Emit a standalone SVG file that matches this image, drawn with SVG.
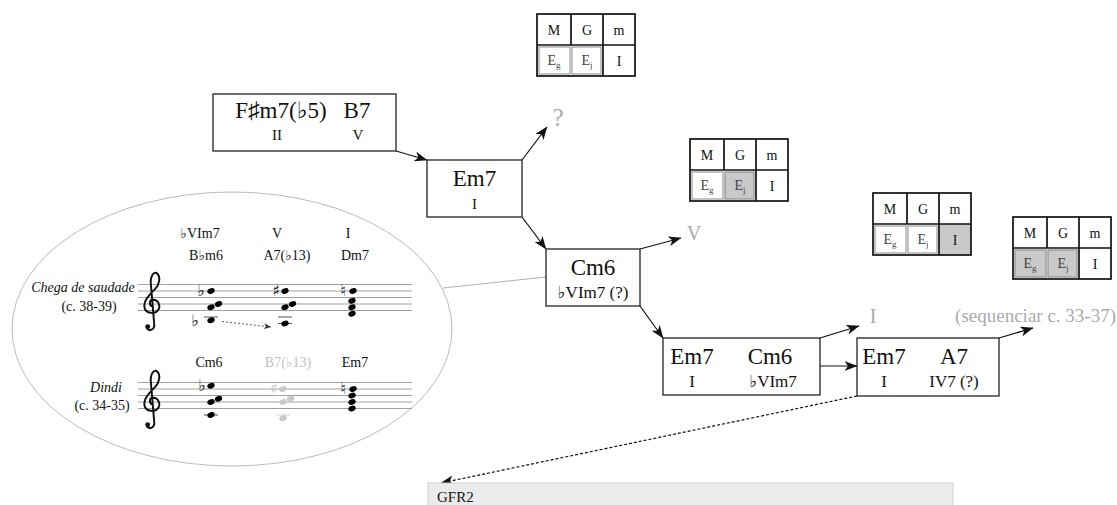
<svg xmlns="http://www.w3.org/2000/svg" xmlns:xlink="http://www.w3.org/1999/xlink" width="1117" height="505" viewBox="0 0 1117 505">
<style>
text{font-family:"Liberation Serif","DejaVu Serif",serif;fill:#111}
.box{fill:#fff;stroke:#222;stroke-width:1.3}
.ch{font-size:23px;text-anchor:middle}
.rn{font-size:15px;text-anchor:middle}
.rn2{font-size:17px;text-anchor:middle}
.gr{fill:#aaa}
.lg{fill:#c0c0c0}
.tb{fill:none;stroke:#111;stroke-width:1.7}
.tt{font-size:14px;text-anchor:middle}
.ts{fill:#444}
.cell{fill:#fff;stroke:#aaa;stroke-width:1.4}
.cellg{fill:#c9c9c9;stroke:#999;stroke-width:1.4}
.conn{fill:none;stroke:#111;stroke-width:1.2;marker-end:url(#ah)}
.sm{font-size:14px;text-anchor:middle}
.it{font-style:italic}
.st{stroke:#888;stroke-width:0.8}
.led{stroke:#444;stroke-width:0.9}
.acc{font-family:"DejaVu Sans",sans-serif;font-size:16px;text-anchor:middle;fill:#111}
.clef{fill:none;stroke:#111;stroke-width:1.8}
</style>
<defs>
<marker id="ah" markerUnits="userSpaceOnUse" markerWidth="14" markerHeight="10" refX="12.5" refY="5" orient="auto">
<path d="M0,0 L13,5 L0,10 L3.5,5 Z" fill="#111"/>
</marker>
<marker id="ahs" markerUnits="userSpaceOnUse" markerWidth="8" markerHeight="6" refX="7" refY="3" orient="auto">
<path d="M0,0 L7,3 L0,6 L2,3 Z" fill="#333"/>
</marker>
<ellipse id="nh" rx="3.8" ry="2.7" transform="rotate(-25)"/>
<g id="clef">
<path class="clef" d="M1,2 C-3,2 -3,-4 1,-4 C6,-4 8,2 6,5 C3,10 -6,9 -7,3 C-8,-3 -2,-9 3,-14 C7,-18 8,-25 5,-28 C2,-31 -2,-26 -1,-18 L2,18 C3,24 -3,26 -5,22"/>
<circle cx="-4" cy="21" r="2.3" fill="#111"/>
</g>
</defs>

<!-- tables -->
<g id="table1" transform="translate(537,14)">
<rect class="cell" x="2" y="33" width="31" height="27"/>
<rect class="cell" x="35" y="33" width="29" height="27"/>
<rect class="tb" x="0" y="0" width="98" height="62"/>
<line class="tb" x1="0" y1="31" x2="98" y2="31"/>
<line class="tb" x1="34" y1="0" x2="34" y2="31"/>
<line class="tb" x1="66" y1="0" x2="66" y2="62"/>
<text class="tt" x="17" y="21">M</text><text class="tt" x="50" y="21">G</text><text class="tt" x="82" y="21">m</text>
<text class="tt ts" x="17" y="51">E<tspan font-size="9" dy="3">g</tspan></text>
<text class="tt ts" x="50" y="51">E<tspan font-size="9" dy="3">j</tspan></text>
<text class="tt" x="82" y="52">I</text>
</g>
<g id="table2" transform="translate(690,139)">
<rect class="cell" x="2" y="33" width="31" height="27"/>
<rect class="cellg" x="35" y="33" width="29" height="27"/>
<rect class="tb" x="0" y="0" width="98" height="62"/>
<line class="tb" x1="0" y1="31" x2="98" y2="31"/>
<line class="tb" x1="34" y1="0" x2="34" y2="31"/>
<line class="tb" x1="66" y1="0" x2="66" y2="62"/>
<text class="tt" x="17" y="21">M</text><text class="tt" x="50" y="21">G</text><text class="tt" x="82" y="21">m</text>
<text class="tt ts" x="17" y="51">E<tspan font-size="9" dy="3">g</tspan></text>
<text class="tt ts" x="50" y="51">E<tspan font-size="9" dy="3">j</tspan></text>
<text class="tt" x="82" y="52">I</text>
</g>
<g id="table3" transform="translate(873,193)">
<rect class="cell" x="2" y="33" width="31" height="27"/>
<rect class="cell" x="35" y="33" width="29" height="27"/>
<rect x="66" y="31" width="32" height="31" fill="#c9c9c9"/>
<rect class="tb" x="0" y="0" width="98" height="62"/>
<line class="tb" x1="0" y1="31" x2="98" y2="31"/>
<line class="tb" x1="34" y1="0" x2="34" y2="31"/>
<line class="tb" x1="66" y1="0" x2="66" y2="62"/>
<text class="tt" x="17" y="21">M</text><text class="tt" x="50" y="21">G</text><text class="tt" x="82" y="21">m</text>
<text class="tt ts" x="17" y="51">E<tspan font-size="9" dy="3">g</tspan></text>
<text class="tt ts" x="50" y="51">E<tspan font-size="9" dy="3">j</tspan></text>
<text class="tt" x="82" y="52">I</text>
</g>
<g id="table4" transform="translate(1013,217)">
<rect class="cellg" x="2" y="33" width="31" height="27"/>
<rect class="cellg" x="35" y="33" width="29" height="27"/>
<rect class="tb" x="0" y="0" width="98" height="62"/>
<line class="tb" x1="0" y1="31" x2="98" y2="31"/>
<line class="tb" x1="34" y1="0" x2="34" y2="31"/>
<line class="tb" x1="66" y1="0" x2="66" y2="62"/>
<text class="tt" x="17" y="21">M</text><text class="tt" x="50" y="21">G</text><text class="tt" x="82" y="21">m</text>
<text class="tt ts" x="17" y="51">E<tspan font-size="9" dy="3">g</tspan></text>
<text class="tt ts" x="50" y="51">E<tspan font-size="9" dy="3">j</tspan></text>
<text class="tt" x="82" y="52">I</text>
</g>

<!-- connectors -->
<g id="connectors">
<line class="conn" x1="396" y1="151" x2="427" y2="160"/>
<line class="conn" x1="522" y1="160" x2="547" y2="127"/>
<line class="conn" x1="522" y1="217" x2="546" y2="249"/>
<line class="conn" x1="640" y1="249" x2="681" y2="238"/>
<line class="conn" x1="640" y1="306" x2="663" y2="338"/>
<line class="conn" x1="820" y1="338" x2="859" y2="326"/>
<line class="conn" x1="820" y1="366" x2="857" y2="366"/>
<line class="conn" x1="999" y1="338" x2="1033" y2="328"/>
<line class="conn" x1="857" y1="396" x2="441" y2="483" stroke-dasharray="3,2"/>
<line x1="443" y1="288" x2="546" y2="277" stroke="#999" stroke-width="0.8"/>
</g>

<!-- flow nodes -->
<g id="node-fsharp">
<rect class="box" x="213" y="94" width="183" height="57"/>
<text class="ch" x="281" y="118">F♯m7(♭5)</text>
<text class="ch" x="357" y="118">B7</text>
<text class="rn" x="277" y="140">II</text>
<text class="rn" x="358" y="140">V</text>
</g>
<g id="node-em7">
<rect class="box" x="427" y="160" width="95" height="57"/>
<text class="ch" x="474.5" y="186">Em7</text>
<text class="rn" x="474.5" y="209">I</text>
</g>
<g id="node-cm6">
<rect class="box" x="546" y="249" width="94" height="57"/>
<text class="ch" x="593" y="275">Cm6</text>
<text class="rn2" x="593" y="298">♭VIm7 (?)</text>
</g>
<g id="node-em7cm6">
<rect class="box" x="663" y="338" width="157" height="57"/>
<text class="ch" x="692" y="364">Em7</text>
<text class="ch" x="770" y="364">Cm6</text>
<text class="rn2" x="692" y="387">I</text>
<text class="rn2" x="773" y="387">♭VIm7</text>
</g>
<g id="node-em7a7">
<rect class="box" x="857" y="338" width="142" height="58"/>
<text class="ch" x="884" y="364">Em7</text>
<text class="ch" x="954" y="364">A7</text>
<text class="rn2" x="884" y="387">I</text>
<text class="rn2" x="954" y="387">IV7 (?)</text>
</g>
<g id="labels-gray">
<text class="gr" x="558" y="126" font-size="25" text-anchor="middle">?</text>
<text class="gr" x="694" y="240" font-size="20" text-anchor="middle">V</text>
<text class="gr" x="873" y="323" font-size="20" text-anchor="middle">I</text>
<text class="gr" x="1116" y="322" font-size="19" text-anchor="end">(sequenciar c. 33-37)</text>
</g>
<g id="node-gfr2">
<rect x="428" y="483" width="525" height="30" fill="#ebebeb" stroke="#d0d0d0" stroke-width="1"/>
<text x="437" y="502" font-size="15">GFR2</text>
</g>

<!-- ellipse with score excerpts -->
<g id="node-excerpt">
<ellipse cx="232" cy="329" rx="220" ry="137" fill="#fff" stroke="#bbb" stroke-width="1"/>
<text class="sm" x="200" y="238">♭VIm7</text>
<text class="sm" x="277" y="238">V</text>
<text class="sm" x="348" y="238">I</text>
<text class="sm" x="206" y="260">B♭m6</text>
<text class="sm" x="287" y="260">A7(♭13)</text>
<text class="sm" x="355" y="260">Dm7</text>
<text class="sm it" x="83" y="292">Chega de saudade</text>
<text class="sm" x="89" y="311">(c. 38-39)</text>
<g class="st">
<line x1="138" y1="284.5" x2="412" y2="284.5"/><line x1="138" y1="291" x2="412" y2="291"/><line x1="138" y1="297.5" x2="412" y2="297.5"/><line x1="138" y1="304" x2="412" y2="304"/><line x1="138" y1="310.5" x2="412" y2="310.5"/>
</g>
<use xlink:href="#clef" transform="translate(152,304) scale(1.08)"/>
<text class="acc" x="201" y="296">♭</text>
<use xlink:href="#nh" x="211" y="291"/>
<use xlink:href="#nh" x="211" y="307.25"/>
<use xlink:href="#nh" x="218.5" y="304"/>
<line class="led" x1="204" y1="317" x2="218" y2="317"/>
<use xlink:href="#nh" x="211" y="320.25"/>
<text class="acc" x="195" y="326">♭</text>
<line x1="222" y1="321.5" x2="271" y2="327" stroke="#333" stroke-width="0.8" stroke-dasharray="2,2" marker-end="url(#ahs)"/>
<text class="acc" x="276" y="296">♯</text>
<use xlink:href="#nh" x="285" y="291"/>
<use xlink:href="#nh" x="285" y="307.25"/>
<use xlink:href="#nh" x="292.5" y="304"/>
<line class="led" x1="278" y1="317" x2="292" y2="317"/>
<line class="led" x1="278" y1="323.5" x2="292" y2="323.5"/>
<use xlink:href="#nh" x="285" y="323.5"/>
<text class="acc" x="343" y="296">♮</text>
<use xlink:href="#nh" x="353" y="291"/>
<use xlink:href="#nh" x="352" y="300.75"/>
<use xlink:href="#nh" x="352" y="307.25"/>
<use xlink:href="#nh" x="352" y="313.75"/>

<text class="sm" x="209" y="367">Cm6</text>
<text class="sm lg" x="288" y="367">B7(♭13)</text>
<text class="sm" x="355" y="367">Em7</text>
<text class="sm it" x="106" y="392">Dindi</text>
<text class="sm" x="102" y="410">(c. 34-35)</text>
<g class="st">
<line x1="138" y1="382.5" x2="412" y2="382.5"/><line x1="138" y1="389" x2="412" y2="389"/><line x1="138" y1="395.5" x2="412" y2="395.5"/><line x1="138" y1="402" x2="412" y2="402"/><line x1="138" y1="408.5" x2="412" y2="408.5"/>
</g>
<use xlink:href="#clef" transform="translate(152,402) scale(1.08)"/>
<text class="acc" x="202" y="391">♭</text>
<use xlink:href="#nh" x="211" y="385.75"/>
<use xlink:href="#nh" x="211" y="402"/>
<use xlink:href="#nh" x="218.5" y="398.75"/>
<line class="led" x1="204" y1="415" x2="218" y2="415"/>
<use xlink:href="#nh" x="211" y="415"/>
<g fill="#c8c8c8">
<text class="acc" x="274" y="394" style="fill:#c8c8c8">♯</text>
<use xlink:href="#nh" x="283" y="389"/>
<use xlink:href="#nh" x="283" y="402"/>
<use xlink:href="#nh" x="290.5" y="398.75"/>
<line x1="276" y1="415" x2="290" y2="415" stroke="#c8c8c8" stroke-width="0.9"/>
<use xlink:href="#nh" x="283" y="418.25"/>
</g>
<text class="acc" x="343" y="394">♮</text>
<use xlink:href="#nh" x="353" y="389"/>
<use xlink:href="#nh" x="352" y="395.5"/>
<use xlink:href="#nh" x="352" y="402"/>
<use xlink:href="#nh" x="352" y="408.5"/>
</g>
</svg>
